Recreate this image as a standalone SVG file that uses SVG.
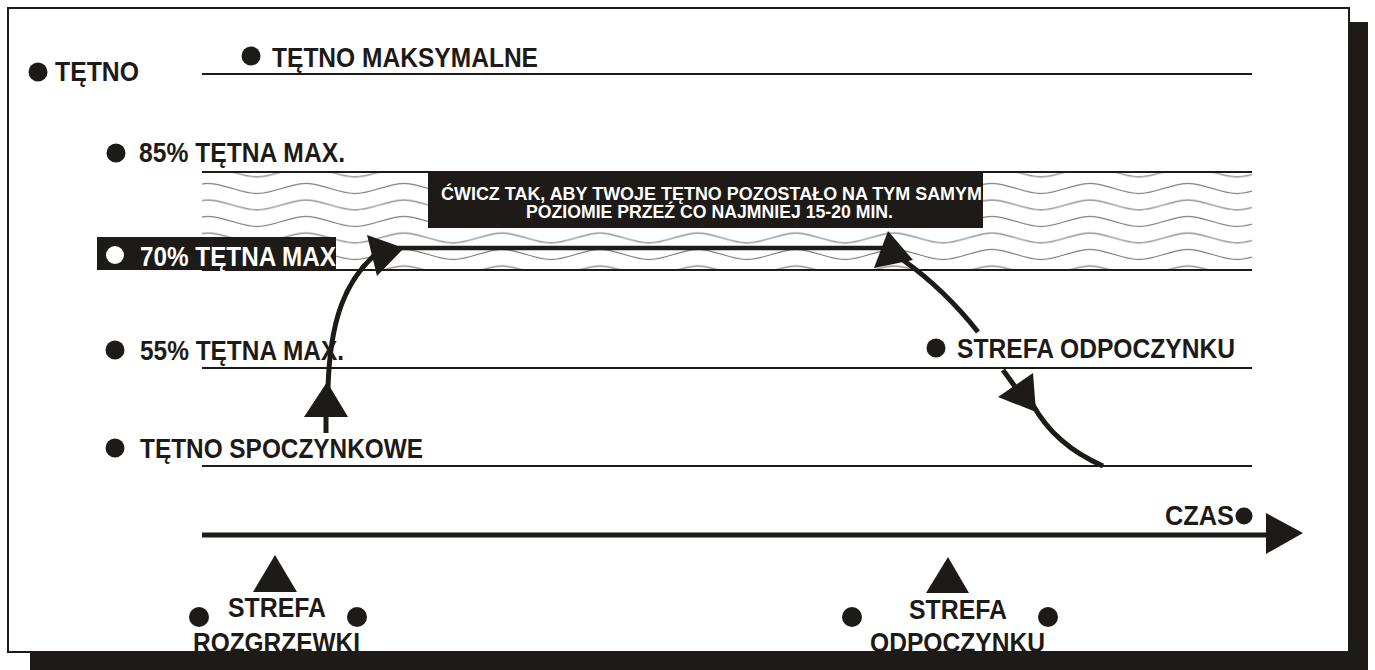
<svg xmlns="http://www.w3.org/2000/svg" width="1375" height="670" viewBox="0 0 1375 670">
<style>
.t{font-family:"Liberation Sans",Arial,sans-serif;font-weight:bold;font-size:27.5px;fill:#1e1a17}
.w{fill:#ffffff}
.s{font-family:"Liberation Sans",Arial,sans-serif;font-weight:bold;font-size:18.5px;fill:#ffffff}
.ln{stroke:#1e1a17;stroke-width:2.2;fill:none}
.dot{fill:#1e1a17}
.k{fill:#1e1a17}
.cv{stroke:#1e1a17;stroke-width:5;fill:none}
</style>
<defs>
<pattern id="wave" x="208" y="163.75" width="98" height="16.5" patternUnits="userSpaceOnUse">
<path d="M0,3.25 C16.3,3.25 32.7,13.25 49,13.25 S81.7,3.25 98,3.25" fill="none" stroke="#7a7a7a" stroke-width="1.1"/>
</pattern>
</defs>
<rect width="1375" height="670" fill="#ffffff"/>
<g id="frame">
<rect x="8" y="8" width="1341" height="644" fill="#ffffff" stroke="#1e1a17" stroke-width="2"/>
</g>
<g id="zone-band">
<rect x="202" y="172" width="1050" height="98" fill="url(#wave)"/>
</g>
<g id="levels">
<line class="ln" x1="202" y1="74" x2="1252" y2="74"/>
<line class="ln" x1="202" y1="172" x2="1252" y2="172"/>
<line class="ln" x1="202" y1="270" x2="1252" y2="270"/>
<line class="ln" x1="202" y1="368" x2="1252" y2="368"/>
<line class="ln" x1="202" y1="466" x2="1252" y2="466"/>
</g>
<g id="label-tetno">
<circle class="dot" cx="38" cy="72" r="9.5"/>
<text class="t" x="55" y="81" textLength="84" lengthAdjust="spacingAndGlyphs">TĘTNO</text>
</g>
<g id="label-max">
<circle class="dot" cx="251" cy="56" r="9.5"/>
<text class="t" x="272" y="67" textLength="266" lengthAdjust="spacingAndGlyphs">TĘTNO MAKSYMALNE</text>
</g>
<g id="label-85">
<circle class="dot" cx="116" cy="153" r="9.5"/>
<text class="t" x="139" y="162" textLength="206" lengthAdjust="spacingAndGlyphs">85% TĘTNA MAX.</text>
</g>
<g id="note">
<rect class="k" x="428" y="172" width="555" height="56"/>
<text class="s" x="441" y="200" textLength="541" lengthAdjust="spacingAndGlyphs">ĆWICZ TAK, ABY TWOJE TĘTNO POZOSTAŁO NA TYM SAMYM</text>
<text class="s" x="526" y="218" textLength="367" lengthAdjust="spacingAndGlyphs">POZIOMIE PRZEŹ CO NAJMNIEJ 15-20 MIN.</text>
</g>
<g id="label-70">
<rect class="k" x="97" y="237" width="239" height="33"/>
<circle class="w" cx="115" cy="255" r="9"/>
<text class="t w" x="140" y="266" textLength="196" lengthAdjust="spacingAndGlyphs">70% TĘTNA MAX</text>
</g>
<g id="label-55">
<circle class="dot" cx="115" cy="350" r="9.5"/>
<text class="t" x="140" y="360" textLength="204" lengthAdjust="spacingAndGlyphs">55% TĘTNA MAX.</text>
</g>
<g id="label-rest">
<circle class="dot" cx="115" cy="448" r="9.5"/>
<text class="t" x="140" y="458" textLength="283" lengthAdjust="spacingAndGlyphs">TĘTNO SPOCZYNKOWE</text>
</g>
<g id="label-recovery">
<circle class="dot" cx="936" cy="348" r="9.5"/>
<text class="t" x="957" y="358" textLength="278" lengthAdjust="spacingAndGlyphs">STREFA ODPOCZYNKU</text>
</g>
<g id="connectors">
<line class="cv" x1="326" y1="433" x2="326" y2="412"/>
<polygon class="k" points="327,382 304,417 348,417"/>
<path class="cv" d="M328,388 C330,320 345,280 378,252"/>
<polygon class="k" points="367,235 404,248 377,276"/>
<line x1="398" y1="248" x2="886" y2="248" stroke="#1e1a17" stroke-width="4.5"/>
<polygon class="k" points="888,231 874,268 913,260"/>
<path class="cv" d="M903,260 Q945,290 978,332"/>
<line class="cv" x1="1003" y1="370" x2="1016" y2="388"/>
<polygon class="k" points="998,397 1033,373 1036,412"/>
<path class="cv" d="M1033,405 Q1055,445 1103,466"/>
<line x1="202" y1="535" x2="1270" y2="535" stroke="#1e1a17" stroke-width="5"/>
<polygon class="k" points="1266,513 1303,533 1266,554"/>
</g>
<g id="label-time">
<text class="t" x="1165" y="525" font-size="26" textLength="69" lengthAdjust="spacingAndGlyphs">CZAS</text>
<circle class="dot" cx="1244" cy="516" r="8.5"/>
</g>
<g id="zone-warmup">
<polygon class="k" points="275,555 253,592 297,592"/>
<circle class="dot" cx="199" cy="617" r="10"/>
<circle class="dot" cx="357" cy="617" r="10"/>
<text class="t" x="277" y="617" text-anchor="middle" textLength="98" lengthAdjust="spacingAndGlyphs">STREFA</text>
<text class="t" x="276.5" y="652" text-anchor="middle" textLength="167" lengthAdjust="spacingAndGlyphs">ROZGRZEWKI</text>
</g>
<g id="zone-cooldown">
<polygon class="k" points="948,557 926,593 969,593"/>
<circle class="dot" cx="852" cy="617" r="10"/>
<circle class="dot" cx="1048" cy="617" r="10"/>
<text class="t" x="958" y="619" text-anchor="middle" textLength="98" lengthAdjust="spacingAndGlyphs">STREFA</text>
<text class="t" x="957.5" y="652" text-anchor="middle" textLength="175" lengthAdjust="spacingAndGlyphs">ODPOCZYNKU</text>
</g>
<g id="shadow">
<rect class="k" x="1349" y="22" width="19" height="648"/>
<rect class="k" x="30" y="652" width="1338" height="18"/>
</g>
</svg>
